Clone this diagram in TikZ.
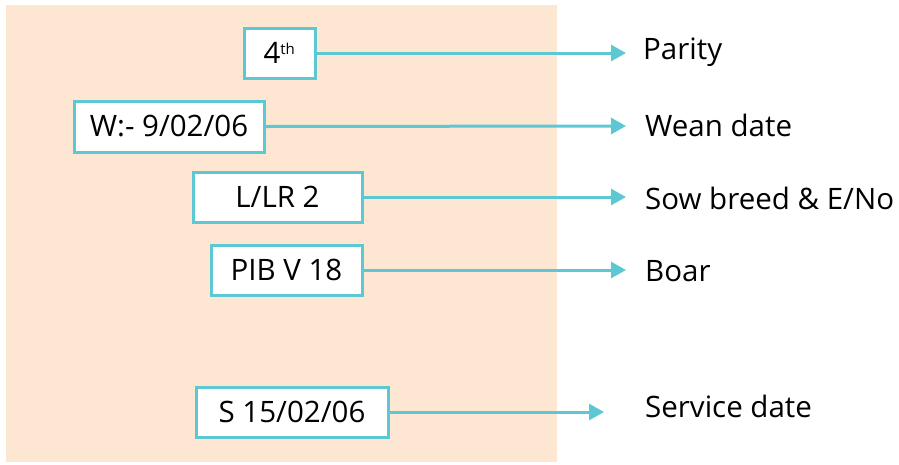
\documentclass[tikz,border=0pt]{standalone}
\usepackage{fontspec}
\setmainfont{Open Sans}
\usetikzlibrary{arrows.meta}
\definecolor{peach}{HTML}{FDE6D2}
\definecolor{teal}{HTML}{5BC8D3}
\begin{document}
\begin{tikzpicture}[x=1pt,y=-1pt,
  lbox/.style={draw=teal,line width=3pt,fill=white,inner sep=0pt,font=\fontsize{29.5}{34}\selectfont},
  lab/.style={anchor=west,inner sep=0pt,font=\fontsize{29.5}{34}\selectfont},
  conn/.style={draw=teal,line width=3pt,-{Triangle[length=15pt,width=16pt]}}]
\useasboundingbox (0,0) rectangle (899,464);
\fill[peach] (6,5) rectangle (557,462);
\node[lbox,minimum width=71pt,minimum height=50pt] (b1) at (279.5,53) {4\textsuperscript{\fontsize{15}{17}\selectfont th}};
\node[lbox,minimum width=190pt,minimum height=51pt] (b2) at (169,126.5) {W:- 9/02/06};
\node[lbox,minimum width=169pt,minimum height=50pt] (b3) at (277.5,197) {L/LR 2};
\node[lbox,minimum width=151pt,minimum height=50pt] (b4) at (286.5,270) {PIB V 18};
\node[lbox,minimum width=192pt,minimum height=50pt] (b5) at (292,412) {S 15/02/06};
\node[lab] (l1) at (643,52) {Parity};
\node[lab] (l2) at (645,125) {Wean date};
\node[lab] (l3) at (645,198) {Sow breed \& E/No};
\node[lab] (l4) at (645,271) {Boar};
\node[lab] (l5) at (645,406) {Service date};
\coordinate (e1) at (626,53);
\coordinate (e2) at (626,126);
\coordinate (e3) at (626,197);
\coordinate (e4) at (626,270);
\coordinate (e5) at (604,412);
\draw[conn] (b1.east) -- (e1);
\draw[conn] (b2.east) -- (e2);
\draw[conn] (b3.east) -- (e3);
\draw[conn] (b4.east) -- (e4);
\draw[conn] (b5.east) -- (e5);
\end{tikzpicture}
\end{document}
